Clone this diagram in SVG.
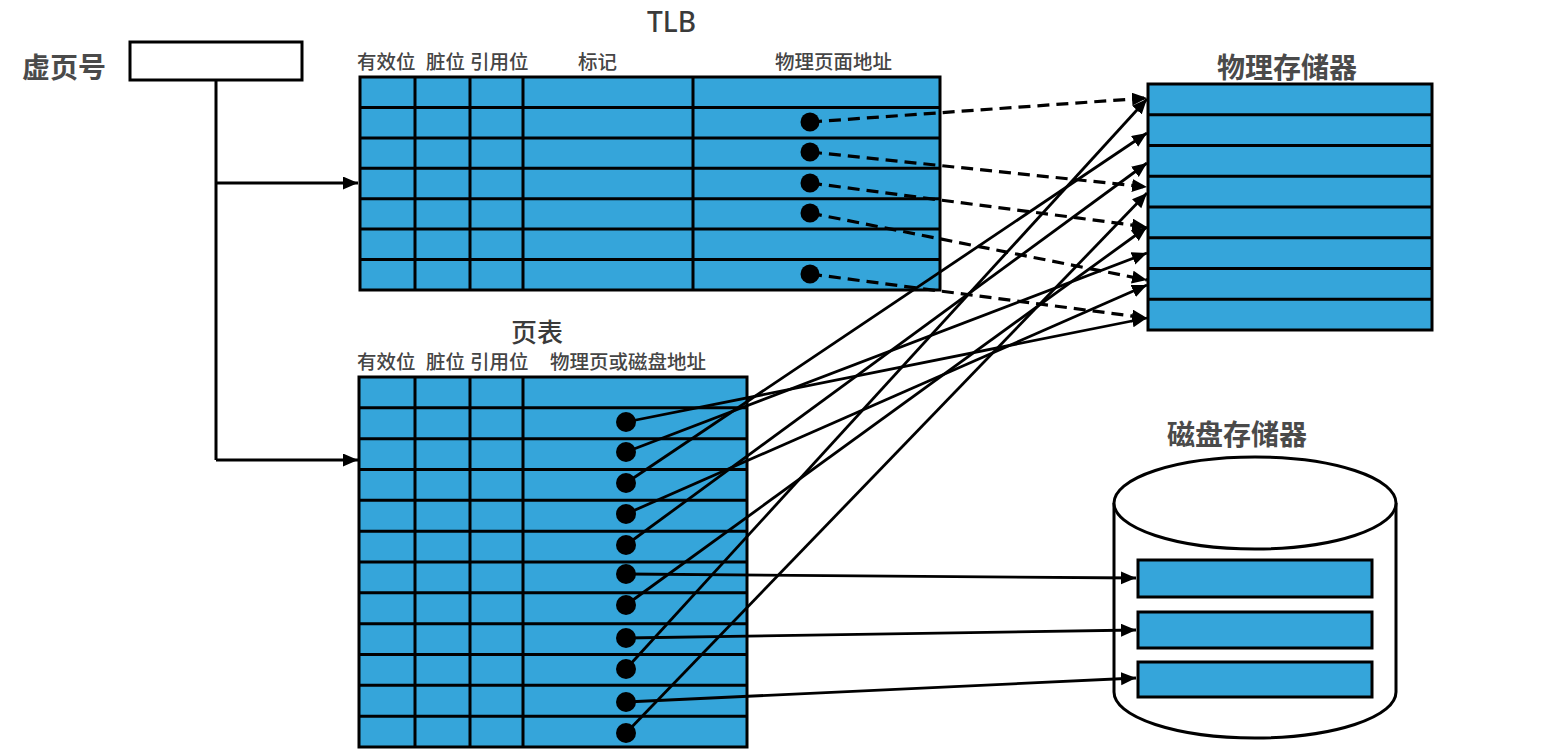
<svg xmlns="http://www.w3.org/2000/svg" width="1550" height="753" viewBox="0 0 1550 753">
<style>
.cell{fill:#35A5DA;stroke:#000;stroke-width:3}
.grid{stroke:#000;stroke-width:3;fill:none}
.hdr{font-family:"Noto Sans CJK SC","Noto Sans",sans-serif;font-size:19.5px;font-weight:500;fill:#454545}
.ttl{font-family:"Noto Sans CJK SC","Noto Sans",sans-serif;font-size:28px;font-weight:bold;fill:#4a4a4a}
.sub{font-family:"Noto Sans","Noto Sans CJK SC",sans-serif;font-weight:500;fill:#3a3a3a}
.ln{stroke:#000;stroke-width:2.8;fill:none;marker-end:url(#ah)}
.dl{stroke:#000;stroke-width:3.2;fill:none;stroke-dasharray:12 7;marker-end:url(#ah)}
.dot{fill:#000}
</style>
<defs>
<marker id="ah" markerUnits="userSpaceOnUse" markerWidth="18" markerHeight="14" refX="15" refY="6.5" orient="auto">
<path d="M0,0 L15,6.5 L0,13 z" fill="#000"/>
</marker>
</defs>
<rect width="1550" height="753" fill="#fff"/>

<g id="vpn">
<text class="ttl" x="22" y="78" font-size="27">虚页号</text>
<rect x="130" y="42" width="172" height="38" fill="#fff" stroke="#000" stroke-width="3"/>
</g>

<g id="tlb">
<text class="sub" x="647" y="32" font-size="28">TLB</text>
<text class="hdr" x="357" y="69">有效位</text>
<text class="hdr" x="426" y="69">脏位</text>
<text class="hdr" x="470" y="69">引用位</text>
<text class="hdr" x="578" y="69">标记</text>
<text class="hdr" x="775" y="69">物理页面地址</text>
<rect class="cell" x="360" y="77" width="580" height="213"/>
<path class="grid" d="M415,77V290M470,77V290M523,77V290M693,77V290M360,107.4H940M360,137.9H940M360,168.3H940M360,198.7H940M360,229.1H940M360,259.6H940"/>
<circle class="dot" cx="810" cy="122" r="9.5"/>
<circle class="dot" cx="810" cy="152" r="9.5"/>
<circle class="dot" cx="810" cy="183" r="9.5"/>
<circle class="dot" cx="810" cy="213" r="9.5"/>
<circle class="dot" cx="810" cy="274" r="9.5"/>
</g>

<g id="pagetable">
<text class="sub" x="511" y="342" font-size="26">页表</text>
<text class="hdr" x="357" y="369">有效位</text>
<text class="hdr" x="426" y="369">脏位</text>
<text class="hdr" x="470" y="369">引用位</text>
<text class="hdr" x="550" y="369">物理页或磁盘地址</text>
<rect class="cell" x="359" y="377" width="388" height="370"/>
<path class="grid" d="M415,377V747M470,377V747M523,377V747M359,407.8H747M359,438.7H747M359,469.5H747M359,500.3H747M359,531.2H747M359,562H747M359,592.8H747M359,623.7H747M359,654.5H747M359,685.3H747M359,716.2H747"/>
<circle class="dot" cx="626" cy="422" r="10"/>
<circle class="dot" cx="626" cy="452" r="10"/>
<circle class="dot" cx="626" cy="483" r="10"/>
<circle class="dot" cx="626" cy="514" r="10"/>
<circle class="dot" cx="626" cy="545" r="10"/>
<circle class="dot" cx="626" cy="574" r="10"/>
<circle class="dot" cx="626" cy="605" r="10"/>
<circle class="dot" cx="626" cy="638" r="10"/>
<circle class="dot" cx="626" cy="669" r="10"/>
<circle class="dot" cx="626" cy="702" r="10"/>
<circle class="dot" cx="626" cy="733" r="10"/>
</g>

<g id="physmem">
<text class="ttl" x="1217" y="78">物理存储器</text>
<rect class="cell" x="1148" y="84" width="284" height="246"/>
<path class="grid" d="M1148,114.75H1432M1148,145.5H1432M1148,176.25H1432M1148,207H1432M1148,237.75H1432M1148,268.5H1432M1148,299.25H1432"/>
</g>

<g id="disk">
<text class="ttl" x="1167" y="445" font-size="27.5">磁盘存储器</text>
<path d="M1114,503 V692 A141,46 0 0 0 1396,692 V503" fill="#fff" stroke="#000" stroke-width="3"/>
<ellipse cx="1255" cy="503" rx="141" ry="46" fill="#fff" stroke="#000" stroke-width="3"/>
<rect class="cell" x="1138" y="560" width="234" height="37"/>
<rect class="cell" x="1138" y="612" width="234" height="36"/>
<rect class="cell" x="1138" y="662" width="234" height="35"/>
</g>

<g id="connectors">
<path d="M216,80V460" stroke="#000" stroke-width="3" fill="none"/>
<path class="ln" d="M216,183H358" stroke-width="3"/>
<path class="ln" d="M216,460H358" stroke-width="3"/>
<path class="dl" d="M810,122L1147,98"/>
<path class="dl" d="M810,152L1147,187"/>
<path class="dl" d="M810,183L1147,227"/>
<path class="dl" d="M810,213L1147,280"/>
<path class="dl" d="M810,274L1147,318" stroke-width="3.8"/>
<path class="ln" d="M626,422L1147,318"/>
<path class="ln" d="M626,452L1147,253"/>
<path class="ln" d="M626,483L1147,133"/>
<path class="ln" d="M626,514L1147,285"/>
<path class="ln" d="M626,545L1147,163"/>
<path class="ln" d="M626,605L1147,227"/>
<path class="ln" d="M626,669L1147,99"/>
<path class="ln" d="M626,733L1147,193"/>
<path class="ln" d="M626,574L1136,578"/>
<path class="ln" d="M626,638L1136,630"/>
<path class="ln" d="M626,702L1136,678"/>
</g>
</svg>
